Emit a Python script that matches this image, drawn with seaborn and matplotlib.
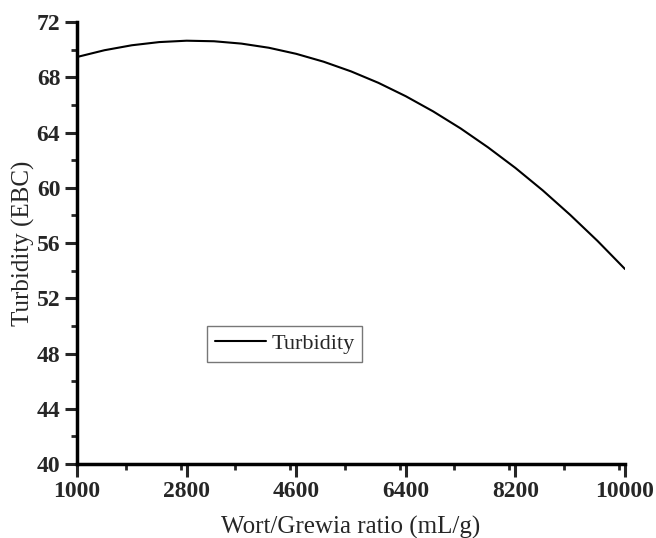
import matplotlib
matplotlib.use("Agg")
import matplotlib.pyplot as plt
import seaborn as sns
import pandas as pd
from matplotlib.ticker import MultipleLocator

ratio = [1000, 1450, 1900, 2350, 2800, 3250, 3700, 4150, 4600, 5050, 5500,
         5950, 6400, 6850, 7300, 7750, 8200, 8650, 9100, 9550, 10000]
turbidity = [69.47, 69.96, 70.32, 70.55, 70.65, 70.61, 70.44, 70.14, 69.70, 69.13, 68.43,
             67.60, 66.63, 65.53, 64.30, 62.93, 61.44, 59.81, 58.04, 56.15, 54.12]
x_ticks = [1000, 2800, 4600, 6400, 8200, 10000]
y_ticks = [40, 44, 48, 52, 56, 60, 64, 68, 72]

df = pd.DataFrame({"Wort/Grewia ratio (mL/g)": ratio, "Turbidity": turbidity})

sns.set_style("ticks")
plt.rcParams["font.family"] = ["Liberation Serif", "DejaVu Serif"]

fig = plt.figure(figsize=(6.56, 5.38), dpi=100)
ax = fig.add_axes([0.1174, 0.1375, 0.8353, 0.8215])

sns.lineplot(data=df, x="Wort/Grewia ratio (mL/g)", y="Turbidity", ax=ax,
             color="black", linewidth=1.5, label="Turbidity")

ax.set_xlim(1000, 10000)
ax.set_ylim(40, 72)
ax.set_xticks(x_ticks)
ax.set_yticks(y_ticks)
ax.xaxis.set_minor_locator(MultipleLocator(900))
ax.yaxis.set_minor_locator(MultipleLocator(2))
ax.set_xticklabels([str(v) for v in x_ticks], fontsize=17, fontweight="bold")
ax.set_yticklabels([str(v) for v in y_ticks], fontsize=17, fontweight="bold")
ax.tick_params(which="major", direction="out", length=9, width=2.2, pad=3)
ax.tick_params(which="minor", direction="out", length=4, width=2)

for s in ["top", "right"]:
    ax.spines[s].set_visible(False)
for s in ["left", "bottom"]:
    ax.spines[s].set_linewidth(2.5)
    ax.spines[s].set_color("black")

ax.set_xlabel("Wort/Grewia ratio (mL/g)", fontsize=18, labelpad=10)
ax.set_ylabel("Turbidity (EBC)", fontsize=18)
ax.yaxis.set_label_coords(-0.077, 0.5)

leg = ax.legend(loc="lower left", bbox_to_anchor=(0.237, 0.231), borderaxespad=0,
                fontsize=16, frameon=True, fancybox=False, handlelength=2.3,
                borderpad=0.35, handletextpad=0.25)
leg.get_frame().set_edgecolor("#555555")
leg.get_frame().set_linewidth(1.0)

fig.savefig("out.png", dpi=100)
